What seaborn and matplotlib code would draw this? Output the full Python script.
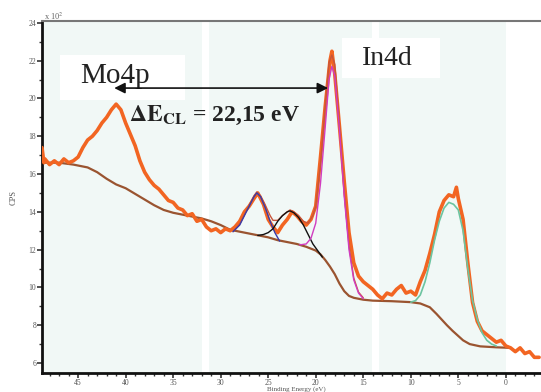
import matplotlib
matplotlib.use("Agg")
import matplotlib.pyplot as plt
from matplotlib.patches import Rectangle
from matplotlib.ticker import MultipleLocator
import seaborn as sns

sns.set_style("white")
plt.rcParams['font.family'] = ['Liberation Serif', 'DejaVu Serif']
plt.rcParams['mathtext.fontset'] = 'stix'

# ---------------- data (binding energy in eV, counts x 10^2) ----------------
data_ev = [48.8, 48.6, 48.5, 48.0, 47.5, 47.0, 46.5, 46.0, 45.5, 45.0, 44.5, 44.0, 43.5, 43.0,
           42.5, 42.0, 41.5, 41.0, 40.5, 40.0, 39.5, 39.0, 38.5, 38.0, 37.5, 37.0, 36.5,
           36.0, 35.5, 35.0, 34.5, 34.0, 33.5, 33.0, 32.5, 32.0, 31.5, 31.0, 30.5, 30.0,
           29.5, 29.0, 28.5, 28.0, 27.5, 27.0, 26.5, 26.1, 25.5, 25.0, 24.5, 24.0, 23.5,
           23.0, 22.5, 22.0, 21.5, 21.0, 20.5, 20.0, 19.5, 19.0, 18.5, 18.3, 18.0, 17.5,
           17.0, 16.5, 16.0, 15.5, 15.0, 14.5, 14.0, 13.5, 13.0, 12.5, 12.0, 11.5, 11.0,
           10.5, 10.0, 9.5, 9.0, 8.5, 8.0, 7.5, 7.0, 6.5, 6.0, 5.5, 5.2, 5.0, 4.5, 4.0,
           3.5, 3.0, 2.5, 2.0, 1.5, 1.0, 0.5, 0.0, -0.5, -1.0, -1.5, -2.0, -2.5, -3.0, -3.5]
data_cps = [17.4, 16.6, 16.8, 16.5, 16.7, 16.5, 16.8, 16.6, 16.7, 16.9, 17.4, 17.8, 18.0, 18.3,
            18.7, 19.0, 19.4, 19.7, 19.4, 18.7, 18.1, 17.5, 16.7, 16.1, 15.7, 15.4, 15.2,
            14.9, 14.6, 14.5, 14.2, 14.1, 13.8, 13.9, 13.5, 13.6, 13.2, 13.0, 13.1, 12.9,
            13.1, 13.0, 13.2, 13.5, 14.0, 14.3, 14.7, 15.0, 14.4, 13.6, 13.2, 12.9, 13.3,
            13.6, 14.0, 13.8, 13.5, 13.3, 13.6, 14.3, 16.9, 19.6, 22.0, 22.5, 21.3, 18.5,
            15.6, 12.9, 11.3, 10.6, 10.3, 10.1, 9.9, 9.6, 9.4, 9.7, 9.6, 9.9, 10.1,
            9.7, 9.8, 9.6, 10.3, 10.9, 11.8, 12.8, 14.0, 14.6, 14.9, 14.8, 15.3, 14.7, 13.6, 11.3,
            9.2, 8.2, 7.7, 7.5, 7.3, 7.1, 7.2, 6.9, 6.8, 6.6, 6.8, 6.5, 6.6, 6.3, 6.3]

bg_ev = [48.8, 47.0, 45.5, 44.0, 43.0, 42.0, 41.0, 40.0, 39.0, 38.0, 37.0, 36.0, 35.0, 34.0,
         33.0, 32.0, 31.0, 30.0, 29.0, 28.0, 27.0, 26.0, 25.0, 24.0, 23.0, 22.0, 21.0, 20.0,
         19.5, 19.0, 18.5, 18.0, 17.5, 17.0, 16.5, 16.0, 15.0, 14.0, 12.0, 10.0, 9.0, 8.0,
         7.3, 6.2, 5.6, 4.5, 3.8, 2.7, 1.0, -0.5]
bg_cps = [16.6, 16.6, 16.5, 16.35, 16.1, 15.75, 15.45, 15.25, 14.95, 14.65, 14.35, 14.1, 13.95,
          13.85, 13.75, 13.65, 13.5, 13.3, 13.05, 12.95, 12.85, 12.75, 12.65, 12.5, 12.4, 12.3,
          12.15, 11.95, 11.75, 11.45, 11.1, 10.7, 10.2, 9.8, 9.55, 9.45, 9.35, 9.3, 9.27, 9.22,
          9.15, 8.95, 8.6, 8.0, 7.7, 7.2, 7.0, 6.88, 6.83, 6.8]

blue_ev = [28.7, 28.0, 27.5, 27.0, 26.5, 26.2, 25.8, 25.3, 24.8, 24.3, 23.8]
blue_cps = [12.95, 13.3, 13.8, 14.3, 14.8, 15.0, 14.8, 14.2, 13.5, 12.9, 12.45]

black_ev = [26.1, 25.5, 25.0, 24.5, 24.0, 23.5, 23.0, 22.7, 22.3, 21.8, 21.3, 20.8, 20.3, 19.8, 19.3]
black_cps = [12.75, 12.8, 12.9, 13.1, 13.5, 13.8, 14.0, 14.05, 13.95, 13.7, 13.3, 12.8, 12.3, 11.95, 11.6]

magenta_ev = [21.7, 21.0, 20.5, 20.0, 19.5, 19.0, 18.6, 18.3, 18.0, 17.5, 17.0, 16.5, 16.0, 15.5, 15.0]
magenta_cps = [12.25, 12.3, 12.6, 13.4, 15.5, 18.5, 21.0, 21.7, 21.2, 18.3, 14.8, 12.0, 10.4, 9.7, 9.4]

green_ev = [10.0, 9.5, 9.0, 8.5, 8.0, 7.5, 7.0, 6.5, 6.0, 5.5, 5.0, 4.5, 4.0, 3.5, 3.0, 2.5, 2.0, 1.5, 1.0]
green_cps = [9.22, 9.3, 9.6, 10.3, 11.3, 12.5, 13.5, 14.2, 14.5, 14.4, 14.1, 13.0, 11.0, 9.3, 8.3, 7.6, 7.2, 7.0, 6.9]

env_ev = [28.7, 28.0, 27.5, 27.0, 26.5, 26.2, 25.8, 25.3, 24.8, 24.5, 24.0, 23.5, 23.0, 22.7,
          22.3, 21.8, 21.3, 20.8, 20.3, 20.0, 19.5, 19.0, 18.6, 18.3, 18.0, 17.5, 17.0, 16.5,
          16.0, 15.5, 15.0]
env_cps = [12.95, 13.35, 13.85, 14.35, 14.85, 15.05, 14.85, 14.35, 13.8, 13.55, 13.55, 13.8,
           14.0, 14.1, 14.0, 13.8, 13.5, 13.4, 13.8, 14.3, 16.5, 19.6, 21.9, 22.3, 21.8, 18.6,
           15.0, 12.2, 10.5, 9.75, 9.45]

y_ticks = [6, 8, 10, 12, 14, 16, 18, 20, 22, 24]
x_ticks = [45, 40, 35, 30, 25, 20, 15, 10, 5, 0]
panels = [(48.8, 32.0), (31.2, 14.1), (13.3, 0.0)]

# ---------------- figure ----------------
fig = plt.figure(figsize=(5.41, 3.92), dpi=100)
ax = fig.add_axes([42 / 541, 1 - 373 / 392, 499 / 541, 352 / 392])
ax.set_facecolor('white')
ax.set_xlim(48.8, -3.7)
ax.set_ylim(5.47, 24.1)

for a, b in panels:
    ax.axvspan(a, b, color='#f1f8f6', lw=0, zorder=0)

sns.lineplot(x=bg_ev, y=bg_cps, ax=ax, color='#9a5430', lw=1.6, sort=False, estimator=None, zorder=2)
sns.lineplot(x=data_ev, y=data_cps, ax=ax, color='#f26522', lw=2.6, sort=False, estimator=None, zorder=3)
sns.lineplot(x=env_ev, y=env_cps, ax=ax, color='#c8553a', lw=1.0, sort=False, estimator=None, zorder=4)
sns.lineplot(x=blue_ev, y=blue_cps, ax=ax, color='#3a3aa8', lw=1.0, sort=False, estimator=None, zorder=5)
sns.lineplot(x=black_ev, y=black_cps, ax=ax, color='#111111', lw=1.0, sort=False, estimator=None, zorder=5)
sns.lineplot(x=magenta_ev, y=magenta_cps, ax=ax, color='#d13cc0', lw=1.0, sort=False, estimator=None, zorder=5)
sns.lineplot(x=green_ev, y=green_cps, ax=ax, color='#6cc4a0', lw=1.2, sort=False, estimator=None, zorder=5)

# label boxes (x origin at the lower-energy side because the axis is reversed)
ax.add_patch(Rectangle((33.8, 19.93), 46.9 - 33.8, 22.3 - 19.93,
                       facecolor='white', edgecolor='none', zorder=1))
ax.add_patch(Rectangle((6.95, 21.1), 17.26 - 6.95, 23.2 - 21.1,
                       facecolor='white', edgecolor='none', zorder=1))
ax.text(44.8, 20.83, 'Mo4p', fontsize=21, ha='left', va='baseline', color='#222222', zorder=6)
ax.text(15.16, 21.78, 'In4d', fontsize=20, ha='left', va='baseline', color='#222222', zorder=6)
ax.annotate('', xy=(41.2, 20.55), xytext=(18.7, 20.55),
            arrowprops=dict(arrowstyle='<|-|>', color='#111111', lw=1.2, mutation_scale=16,
                            shrinkA=0, shrinkB=0), zorder=6)
ax.text(39.6, 18.81, r'$\mathbf{\Delta E_{CL}}$ = 22,15 eV', fontsize=17, fontweight='bold',
        ha='left', va='baseline', color='#222222', zorder=6)

# axes styling
ax.set_xticks(x_ticks)
ax.set_xticklabels([str(v) for v in x_ticks])
ax.set_yticks(y_ticks)
ax.set_yticklabels([str(v) for v in y_ticks])
ax.xaxis.set_minor_locator(MultipleLocator(1))
ax.yaxis.set_minor_locator(MultipleLocator(1))
ax.tick_params(axis='both', which='major', direction='out', length=3.5, width=1.2,
               colors='#333333', labelsize=5.5, labelcolor='#555555', pad=0.8)
ax.tick_params(axis='both', which='minor', direction='out', length=2.2, width=1.0, colors='#333333')
ax.tick_params(bottom=True, left=True, which='both')
for s in ['left', 'bottom']:
    ax.spines[s].set_color('#111111')
    ax.spines[s].set_linewidth(2.0)
ax.spines['top'].set_color('#777777')
ax.spines['top'].set_linewidth(1.5)
ax.spines['right'].set_visible(False)
ax.set_xlabel('')
ax.set_ylabel('')

fig.text(44 / 541, 1 - 16 / 392, r'x 10$^2$', fontsize=6, color='#666666', ha='left', va='center')
fig.text(14 / 541, 1 - 198 / 392, 'CPS', fontsize=6, color='#555555', rotation=90, ha='center', va='center')
fig.text(296 / 541, 0.2 / 392, 'Binding Energy (eV)', fontsize=5, color='#555555', ha='center', va='bottom')

fig.savefig('out.png', dpi=100)
